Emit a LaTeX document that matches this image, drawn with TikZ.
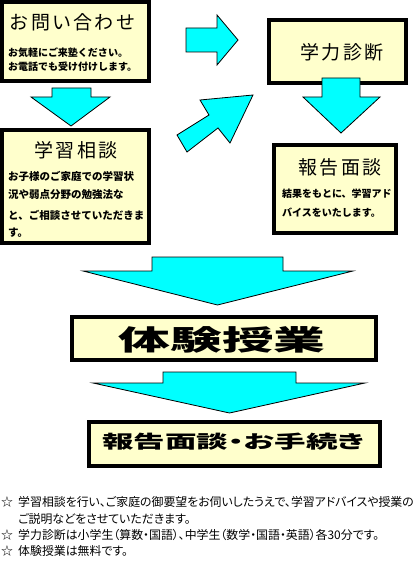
\documentclass[tikz,border=0pt]{standalone}
\usepackage{fontspec}
\newfontfamily\jp{Noto Sans CJK JP}
\newfontfamily\jpp{Noto Sans CJK JP}[RawFeature=+palt]
\definecolor{boxfill}{HTML}{FFFFCC}
\definecolor{arrowfill}{HTML}{00FFFF}
\begin{document}
\begin{tikzpicture}[x=1pt,y=-1pt,
  box/.style={draw=black,line width=4pt,fill=boxfill,inner sep=0pt,outer sep=0pt},
  blockarrow/.style={draw=black,line width=0.8pt,fill=arrowfill,line join=miter},
  boxtitle/.style={font=\jp\fontsize{19}{19}\selectfont\addfontfeature{LetterSpace=12},inner sep=0pt,anchor=center},
  smalltext/.style={font=\jp\bfseries\fontsize{10}{10}\selectfont,inner sep=0pt,anchor=west},
  constext/.style={font=\jp\bfseries\fontsize{10.5}{10.5}\selectfont,inner sep=0pt,anchor=west},
  notetext/.style={font=\jpp\fontsize{11.9}{11.9}\selectfont,inner sep=0pt,anchor=west},
  bigtext/.style={font=\jp\bfseries,inner sep=0pt,anchor=center}]
\useasboundingbox (0,0) rectangle (416,561);

% boxes
\node[box,minimum width=147pt,minimum height=79pt] (inq) at (75.5,41.5) {};
\node[box,minimum width=147pt,minimum height=113pt] (cons) at (75.5,186.5) {};
\node[box,minimum width=137pt,minimum height=63pt] (diag) at (337.5,51.5) {};
\node[box,minimum width=122pt,minimum height=88pt] (rep) at (335,189) {};

% arrows
\draw[blockarrow] (52,88) -- (91,88) -- (91,97) -- (110,97) -- (71,126) -- (31,97) -- (52,97) -- cycle;
\draw[blockarrow] (186,28) -- (217,28) -- (217,15) -- (238,40) -- (217,65) -- (217,52) -- (186,52) -- cycle;
\draw[blockarrow] (177,135) -- (209,115) -- (200,100) -- (253,95) -- (230,143) -- (218,128) -- (187,152) -- cycle;
\draw[blockarrow] (322,78) -- (360,78) -- (360,97) -- (380,97) -- (341,133) -- (303,97) -- (322,97) -- cycle;
\draw[blockarrow] (152,257) -- (283,257) -- (283,271) -- (353,271) -- (217.5,305) -- (83,271) -- (152,271) -- cycle;
\draw[blockarrow] (163,372) -- (296,372) -- (296,383) -- (365,383) -- (229.5,413) -- (93,383) -- (163,383) -- cycle;

\node[box,minimum width=304pt,minimum height=43pt] (trial) at (224,338.5) {};
\node[box,minimum width=291pt,minimum height=44pt] (proc) at (234.5,444) {};

% texts in boxes
\node[boxtitle] (inqT) at (72.5,22) {お問い合わせ};
\node[smalltext] (inq1) at (8,53) {お気軽にご来塾ください。};
\node[smalltext] (inq2) at (8,67) {お電話でも受け付けします。};

\node[boxtitle] (consT) at (76,150) {学習相談};
\node[constext] (cons1) at (8,176) {お子様のご家庭での学習状};
\node[constext] (cons2) at (8,195) {況や弱点分野の勉強法な};
\node[constext] (cons3) at (8,215) {と、ご相談させていただきま};
\node[constext] (cons4) at (8,233) {す。};

\node[boxtitle] (diagT) at (342,52) {学力診断};

\node[boxtitle] (repT) at (340,167) {報告面談};
\node[smalltext] (rep1) at (282,194) {結果をもとに、学習アド};
\node[smalltext] (rep2) at (282,213) {バイスをいたします。};

\node[bigtext] (trialT) at (222,340) {\fontsize{28}{28}\selectfont\scalebox{1.85}[1]{体験授業}};
\node[bigtext,font=\jpp\bfseries] (procT) at (233.5,442) {\fontsize{18}{18}\selectfont\scalebox{1.75}[1]{報告面談・お手続き}};

% notes
\node[notetext,anchor=center] (s1) at (7,502) {☆};
\node[notetext] (n1) at (18,502) {学習相談を行い、ご家庭の御要望をお伺いしたうえで、学習アドバイスや授業の};
\node[notetext] (n1b) at (18,518.5) {ご説明などをさせていただきます。};
\node[notetext,anchor=center] (s2) at (7,535) {☆};
\node[notetext] (n2) at (18,535) {学力診断は小学生（算数・国語）、中学生（数学・国語・英語）各30分です。};
\node[notetext,anchor=center] (s3) at (7,551) {☆};
\node[notetext] (n3) at (18,551) {体験授業は無料です。};
\end{tikzpicture}
\end{document}
